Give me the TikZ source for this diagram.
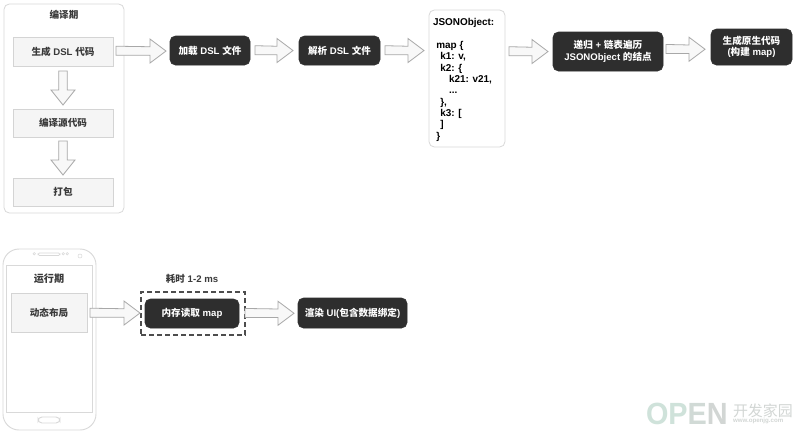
\documentclass[tikz,border=0pt]{standalone}
\usepackage{fontspec}
\setmainfont{Liberation Sans}
\newfontfamily\cjk{Noto Sans CJK SC}
\usetikzlibrary{calc}
\newcommand\cj[1]{{\cjk #1}}
\definecolor{panelline}{HTML}{D9D9D9}
\definecolor{lightfill}{HTML}{F5F5F5}
\definecolor{lightline}{HTML}{D4D4D4}
\definecolor{darkfill}{HTML}{2E2E2E}
\definecolor{arrowline}{HTML}{A8A8A8}
\definecolor{arrowfill}{HTML}{F8F8F8}
\definecolor{graytext}{HTML}{3A3A3A}
\definecolor{markgreen}{HTML}{CFE2DA}
\definecolor{markgray}{HTML}{D2D6D4}
\tikzset{
  every node/.style={inner sep=0pt,outer sep=0pt,font=\fontsize{7.2}{8.6}\selectfont\bfseries},
  panel/.style={draw=panelline,line width=0.6pt,fill=white,rounded corners=4pt},
  lightbox/.style={draw=lightline,line width=0.5pt,fill=lightfill,text=graytext},
  darkbox/.style={draw=darkfill,fill=darkfill,rounded corners=4pt,text=white,align=center},
  caption/.style={text=graytext},
  blockarrow/.style={draw=arrowline,fill=arrowfill,line width=0.6pt,line join=miter},
  phoneline/.style={draw=panelline,line width=0.7pt,fill=white},
  wmark/.style={font=\fontsize{23}{23}\selectfont\bfseries}
}
% node given by its corners, in reference pixels
\newcommand\pxnode[7]{\node[#2,minimum width={(#5-#3)*0.75pt},minimum height={(#6-#4)*0.75pt}] (#1) at ({(#3+#5)/2},{(#4+#6)/2}) {#7};}
% block arrows between named points
\newcommand\harrow[4]{\draw[blockarrow] let \p1=(#1),\p2=(#2),\n1={\x1+#3*0.75pt},\n2={\x2-#4*0.75pt},\n3={0.5*(\y1+\y2)},\n4={\n2-16*0.75pt} in
  (\n1,\n3+3.6pt) -- (\n4,\n3+3.2pt) -- (\n4,\n3+9pt) -- (\n2,\n3) -- (\n4,\n3-9pt) -- (\n4,\n3-3.2pt) -- (\n1,\n3-3.2pt) -- cycle;}
\newcommand\varrow[4]{\draw[blockarrow] let \p1=(#1),\p2=(#2),\n1={\y1-#3*0.75pt},\n2={\y2+#4*0.75pt},\n3={0.5*(\x1+\x2)},\n4={\n2+15*0.75pt} in
  (\n3-3.2pt,\n1) -- (\n3-3.2pt,\n4) -- (\n3-9pt,\n4) -- (\n3,\n2) -- (\n3+9pt,\n4) -- (\n3+3.2pt,\n4) -- (\n3+3.2pt,\n1) -- cycle;}
\begin{document}
\begin{tikzpicture}[x=0.75pt,y=-0.75pt]
\useasboundingbox[fill=white] (0,0) rectangle (800,433);

% compile-time panel
\pxnode{buildpanel}{panel}{4}{4}{124}{213}{}
\node[caption] (buildtitle) at (64,15) {\cj{编译期}};
\pxnode{gen}{lightbox}{13}{37}{113}{66}{\cj{生成} DSL \cj{代码}}
\pxnode{compile}{lightbox}{13}{109}{113}{137}{\cj{编译源代码}}
\pxnode{pack}{lightbox}{13}{178}{113}{206}{\cj{打包}}

% top row
\pxnode{load}{darkbox}{170}{36}{250}{65}{\cj{加载} DSL \cj{文件}}
\pxnode{parse}{darkbox}{299}{36}{380}{65}{\cj{解析} DSL \cj{文件}}
\pxnode{json}{panel}{429}{10}{505}{147}{}
\node[anchor=north west,align=left,text=black,font=\fontsize{7.45}{8.5}\selectfont\bfseries] (jsontext) at (433,18.5) {JSONObject:\\[8.5pt]
\hspace*{2.5pt}map \{\\
\hspace*{5.5pt}k1: v,\\
\hspace*{5.5pt}k2: \{\\
\hspace*{12pt}k21: v21,\\
\hspace*{12pt}...\\
\hspace*{5.5pt}\},\\
\hspace*{5.5pt}k3: [\\
\hspace*{5.5pt}]\\
\hspace*{2.5pt}\}};
\pxnode{walk}{darkbox}{553}{32}{663}{71}{\cj{递归} + \cj{链表遍历}\\JSONObject \cj{的结点}}
\pxnode{native}{darkbox}{711}{29}{792}{65}{\cj{生成原生代码}\\(\cj{构建} map)}

\harrow{gen.east}{load.west}{3}{4}
\harrow{load.east}{parse.west}{5}{6}
\harrow{parse.east}{json.west |- parse.east}{5}{5}
\harrow{json.east |- walk.west}{walk.west}{4}{5}
\harrow{walk.east}{native.west}{3}{6}
\varrow{gen.south}{compile.north}{5}{4}
\varrow{compile.south}{pack.north}{4}{3}

% phone
\pxnode{phone}{phoneline,rounded corners=12pt}{3}{249}{96}{430}{}
\pxnode{screen}{phoneline}{6}{265}{92}{412}{}
\pxnode{speaker}{phoneline,rounded corners=1pt,line width=0.5pt}{38}{253}{60}{255.5}{}
\pxnode{dota}{phoneline,circle,line width=0.4pt}{33}{252.5}{35.5}{255}{}
\pxnode{dotb}{phoneline,circle,line width=0.4pt}{62}{252.5}{64.5}{255}{}
\pxnode{dotc}{phoneline,circle,line width=0.4pt}{66}{252.5}{68.5}{255}{}
\pxnode{dotd}{phoneline,circle,line width=0.4pt}{78}{254}{82}{258}{}
\pxnode{home}{phoneline,rounded corners=3pt}{38}{417}{60}{423}{}
\node[caption,font=\fontsize{7.6}{9}\selectfont\bfseries] (runtitle) at (49,279) {\cj{运行期}};
\pxnode{dyn}{lightbox}{11}{293}{87}{332}{\cj{动态布局}}

% bottom row
\node[caption] (cost) at (192,279) {\cj{耗时} 1-2 ms};
\pxnode{costframe}{draw=darkfill!85,line width=1pt,dash pattern=on 3.4pt off 2.6pt}{141}{292}{245}{335}{}
\pxnode{read}{darkbox}{145}{299}{239}{328}{\cj{内存读取} map}
\pxnode{render}{darkbox}{298}{298}{407}{328}{\cj{渲染} UI(\cj{包含数据绑定})}
\harrow{dyn.east}{costframe.west}{3}{1}
\harrow{costframe.east}{render.west}{0}{4}

% watermark
\node[wmark,anchor=west,xscale=0.94] (mark) at (646,414) {\textcolor{markgreen}{OP}\textcolor{markgray!70!markgreen}{E}\textcolor{markgray}{N}};
\node[anchor=west,text=markgray,font=\fontsize{11.2}{12}\cjk] (markcn) at (733,410.5) {开发家园};
\node[anchor=west,text=markgray,font=\fontsize{4.6}{5}\selectfont\bfseries] (markurl) at (733,421) {www.openjg.com};
\end{tikzpicture}
\end{document}
